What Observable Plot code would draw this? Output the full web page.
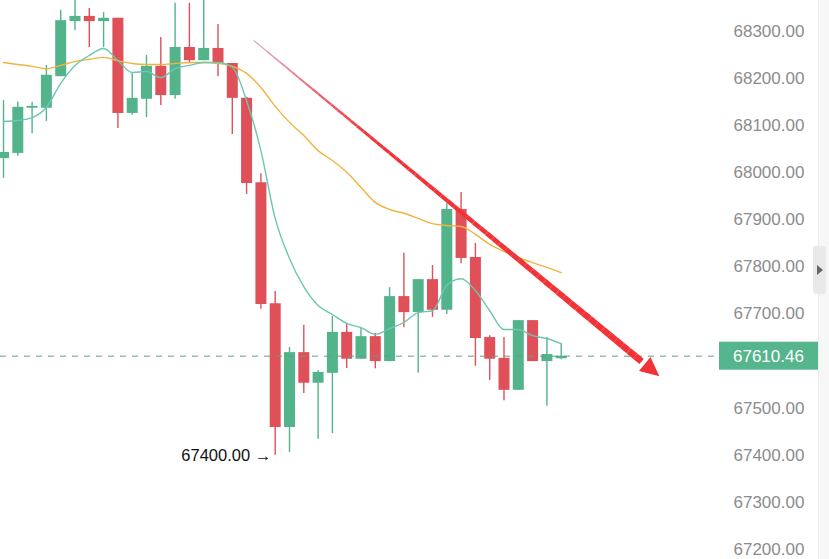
<!DOCTYPE html>
<html><head><meta charset="utf-8">
<script src="https://cdn.jsdelivr.net/npm/d3@7"></script>
<script src="https://cdn.jsdelivr.net/npm/@observablehq/plot@0.6"></script>
<style>
html,body{margin:0;padding:0;background:#fff;overflow:hidden}
#wrap{position:relative;width:829px;height:559px}
#strip{position:absolute;left:818px;top:0;width:11px;height:559px;background:#f7f7f7;border-left:1px solid #ececec}
#handle{position:absolute;left:813px;top:246px;width:13px;height:48px;background:#e9e9e9;border-radius:3px}
#handle:after{content:"";position:absolute;left:4px;top:19px;border-left:6px solid #666;border-top:5px solid transparent;border-bottom:5px solid transparent}
</style></head>
<body><div id="wrap"><div id="chart"></div><div id="strip"></div><div id="handle"></div></div>
<script>
// ---- data ----
const open  = [68030,68041,68137,68137,68204,68321,68332,68321,68328,68126,68156,68226,68164,68266,68238,68264,68232,68158,67979,67722,67459,67618,67553,67574,67661,67604,67652,67599,67737,67703,67773,67708,67922,67820,67650,67606,67538,67686,67599,67605];
const close = [68043,68139,68141,68207,68323,68332,68321,68328,68126,68158,68226,68164,68266,68238,68264,68232,68158,67977,67720,67459,67618,67553,67576,67661,67604,67652,67599,67737,67703,67773,67708,67922,67818,67648,67604,67538,67686,67599,67614,67610.46];
const high  = [68153,68150,68149,68228,68345,68380,68349,68340,68328,68211,68249,68287,68360,68360,68370,68315,68232,68160,67998,67748,67629,67676,67580,67695,67678,67669,67659,67756,67829,67773,67803,67935,67958,67850,67654,67650,67686,67686,67650,67637];
const low   = [67988,68035,68083,68109,68204,68302,68266,68266,68094,68122,68117,68143,68156,68232,68238,68204,68081,67954,67710,67400,67406,67531,67434,67446,67584,67604,67584,67599,67671,67574,67693,67699,67807,67589,67559,67516,67538,67599,67504,67603];
const maFast = [68109,68111,68117,68139,68190,68228,68249,68264,68238,68213,68215,68202,68221,68228,68234,68234,68224,68153,68047,67903,67818,67758,67718,67699,67680,67671,67657,67669,67682,67703,67707,67761,67775,67750,67707,67667,67667,67654,67648,67637];
const maSlow = [68234,68230,68226,68221,68228,68236,68241,68245,68238,68232,68230,68230,68232,68234,68234,68232,68226,68211,68181,68141,68107,68079,68047,68026,68001,67969,67937,67922,67914,67903,67892,67888,67886,67869,67848,67833,67820,67809,67799,67788];
const yTicks = [67200,67300,67400,67500,67700,67800,67900,68000,68100,68200,68300];
const lastPrice = 67610.46;
const lowMark = {i:19, p:67400};
const arrowFrom = {i:17.5, p:68281};
const arrowTo = {i:45.9, p:67567};

// ---- build ----
const GREEN = "#53b48c", RED = "#df5058", ARROW = "#f23237";
const candles = open.map((o,i)=>({i, open:o, close:close[i], high:high[i], low:low[i], up: close[i] >= o}));
const fast = maFast.map((v,i)=>({i, v}));
const slow = maSlow.map((v,i)=>({i, v}));

const N = 60, headStart = 0.955;
const col = d3.interpolateRgb("#e6a6c0", ARROW);
const segs = [];
for (let k=0;k<N;k++){
  const t0 = k/N*headStart, t1 = (k+1)/N*headStart;
  segs.push({
    x1: arrowFrom.i + (arrowTo.i-arrowFrom.i)*t0, y1: arrowFrom.p + (arrowTo.p-arrowFrom.p)*t0,
    x2: arrowFrom.i + (arrowTo.i-arrowFrom.i)*t1, y2: arrowFrom.p + (arrowTo.p-arrowFrom.p)*t1,
    w: 1 + 6*Math.pow(t1, 0.9), c: col(Math.min(1, t1/0.3))
  });
}

const plot = Plot.plot({
  width: 829, height: 559,
  marginLeft: 0, marginRight: 109, marginTop: 0, marginBottom: 0,
  x: {domain: [-0.2098, 50.14], axis: null},
  y: {domain: [67178.7, 68365.8]},
  style: {fontFamily: "'Liberation Sans', Arial, sans-serif", background: "#fff", overflow: "visible"},
  marks: [
    Plot.axisY({anchor: "right", ticks: yTicks, tickFormat: d => d.toFixed(2), tickSize: 0, tickPadding: 13, fontSize: 17, color: "#8c8c8c", label: null}),
    Plot.ruleX(candles, {x: "i", y1: "low", y2: "high", stroke: d => d.up ? GREEN : RED, strokeWidth: 1.4}),
    Plot.ruleX(candles, {x: "i", y1: "open", y2: "close", stroke: d => d.up ? GREEN : RED, strokeWidth: 11}),
    Plot.line(slow, {x: "i", y: "v", stroke: "#f0b43c", strokeWidth: 1.4, curve: "monotone-x"}),
    Plot.line(fast, {x: "i", y: "v", stroke: "#6cc6b0", strokeWidth: 1.4, curve: "monotone-x"}),
    Plot.ruleY([lastPrice], {stroke: "#5f9f88", strokeDasharray: "6,6", strokeWidth: 1}),
    Plot.text([lowMark], {x: "i", y: "p", text: d => d.p.toFixed(2) + " →", textAnchor: "end", dx: -4, fontSize: 16.5, fill: "#111"}),
    Plot.link(segs, {x1: "x1", y1: "y1", x2: "x2", y2: "y2", stroke: d => d.c, strokeWidth: d => d.w, strokeLinecap: "butt"})
  ]
});

const sx = plot.scale("x"), sy = plot.scale("y");
const svg = d3.select(plot);
// arrow head (filled triangle) positioned through the scales
const tx = sx.apply(arrowTo.i), ty = sy.apply(arrowTo.p);
const fx = sx.apply(arrowFrom.i), fy = sy.apply(arrowFrom.p);
const L = Math.hypot(tx - fx, ty - fy), ux = (tx - fx) / L, uy = (ty - fy) / L;
const hl = 19, hw = 9;
const bx = tx - ux * hl, by = ty - uy * hl;
svg.append("path")
  .attr("d", `M${tx},${ty}L${bx - uy * hw},${by + ux * hw}L${bx + uy * hw},${by - ux * hw}Z`)
  .attr("fill", ARROW);
// last-price label
const yy = sy.apply(lastPrice);
svg.append("rect").attr("x", 719).attr("y", yy - 14).attr("width", 99).attr("height", 28).attr("fill", "#55b58d");
svg.append("text").attr("x", 733).attr("y", yy).attr("dy", "0.35em").attr("fill", "#fff")
  .attr("text-anchor", "start").attr("font-size", 17).text(lastPrice.toFixed(2));
document.getElementById("chart").appendChild(plot);
</script>
</body></html>
